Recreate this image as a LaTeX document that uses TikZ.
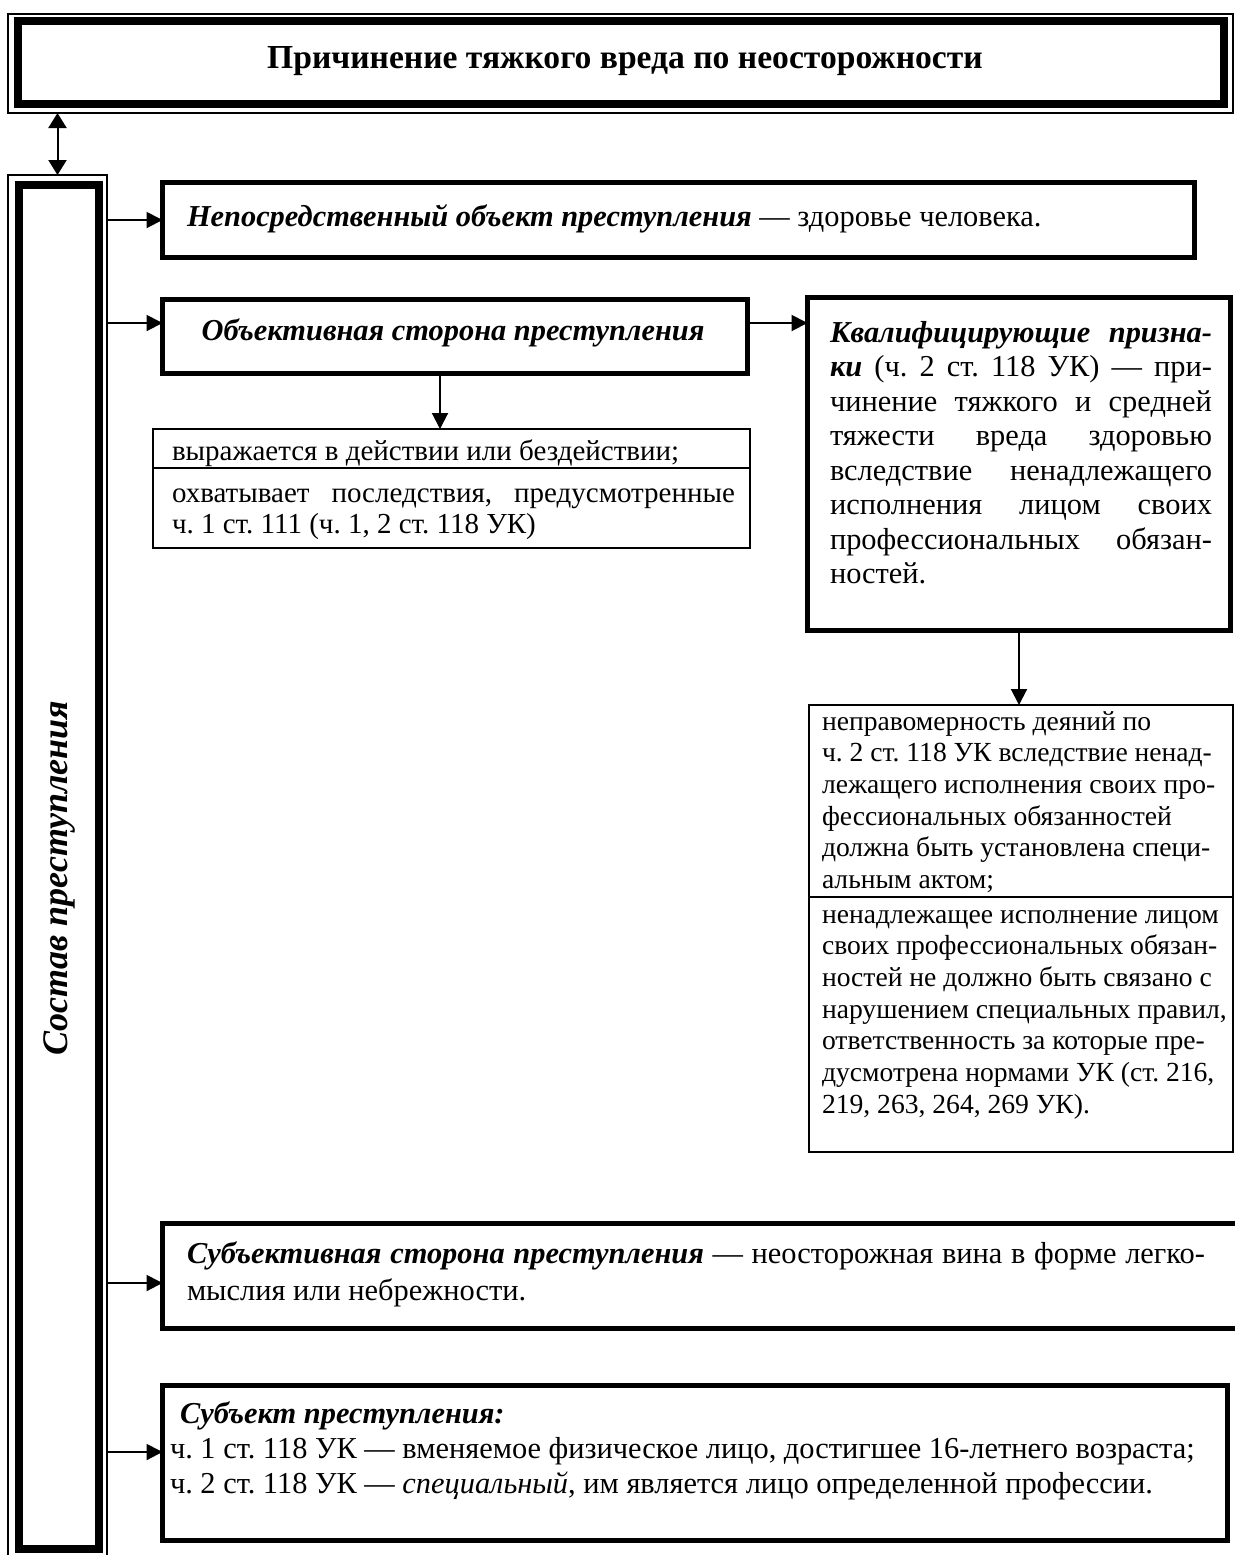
\documentclass[tikz,border=0pt]{standalone}
\usepackage{fontspec}
\setmainfont{Liberation Serif}
\usetikzlibrary{arrows.meta}
\frenchspacing
\begin{document}
\begin{tikzpicture}[x=0.5pt,y=-0.5pt,
  tbox/.style={draw,line width=2.5pt,outer sep=0pt,inner sep=0pt},
  nbox/.style={draw,line width=1pt,outer sep=0pt,inner sep=0pt},
  thickb/.style={draw,line width=4pt,outer sep=0pt,inner sep=0pt},
  thinb/.style={draw,line width=0.7pt,outer sep=0pt,inner sep=0pt},
  txt/.style={inner sep=0pt,outer sep=0pt,anchor=base west,font=\fontsize{15.2pt}{17.25pt}\selectfont},
  arr/.style={line width=1pt,-{Triangle[length=8pt,width=8pt]}},
  darr/.style={line width=1pt,{Triangle[length=7.5pt,width=9pt]}-{Triangle[length=7.5pt,width=9pt]}}]
\useasboundingbox (0,0) rectangle (1235,1555);
% title
\node[thinb,minimum width=612.5pt,minimum height=49.5pt] (tout) at (620.5,63.5) {};
\node[thickb,minimum width=603pt,minimum height=41.5pt] (tin) at (621,62.5) {};
\node[inner sep=0pt,anchor=base,font=\fontsize{16.8pt}{19pt}\selectfont\bfseries] (ttl) at (625,68) {Причинение тяжкого вреда по неосторожности};
% left vertical box
\node[thinb,minimum width=49.5pt,minimum height=690.5pt] (lout) at (57.5,865.5) {};
\node[thickb,minimum width=39.75pt,minimum height=682pt] (lin) at (58.75,867) {};
\node[inner sep=0pt,rotate=90,font=\fontsize{18pt}{21pt}\selectfont\bfseries\itshape] (lt) at (59,878) {Состав преступления};
\draw[darr] (lout.north |- tout.south) -- (lout.north);
% box 1
\node[tbox,minimum width=516pt,minimum height=37.5pt] (b1) at (678.5,220) {};
\node[txt] (t1) at (187,226) {\textbf{\textit{Непосредственный объект преступления}} — здоровье человека.};
\draw[arr] (lout.east |- b1.west) -- (b1.west);
% box 2
\node[tbox,minimum width=292.5pt,minimum height=37pt] (b2) at (455,336.5) {};
\node[txt,anchor=base] (t2) at (453,340) {\textbf{\textit{Объективная сторона преступления}}};
\coordinate (a2) at ([yshift=6.75pt]b2.west);
\draw[arr] (lout.east |- a2) -- (a2);
% box 3
\node[tbox,minimum width=211.5pt,minimum height=166.5pt] (b3) at (1019,464) {};
\draw[arr] (b2.east |- a2) -- (b3.west |- a2);
\node[txt] (t3) at (830,342) {\parbox[t]{191pt}{\fontsize{15.2pt}{17.25pt}\selectfont
\makebox[191pt][s]{\textbf{\textit{Квалифицирующие призна-}}}\\
\makebox[191pt][s]{\textbf{\textit{ки}} (ч. 2 ст. 118 УК) — при-}\\
\makebox[191pt][s]{чинение тяжкого и средней}\\
\makebox[191pt][s]{тяжести вреда здоровью}\\
\makebox[191pt][s]{вследствие ненадлежащего}\\
\makebox[191pt][s]{исполнения лицом своих}\\
\makebox[191pt][s]{профессиональных обязан-}\\
ностей.}};
% box A
\node[nbox,minimum width=298.5pt,minimum height=59.5pt] (bA) at (451.5,488.5) {};
\draw[line width=1pt] (bA.west |- 0,468) coordinate (dA1) -- (bA.east |- dA1) coordinate (dA2);
\coordinate (a3) at ([xshift=-7.5pt]b2.south);
\draw[arr] (a3) -- (a3 |- bA.north);
\node[txt,font=\fontsize{14.5pt}{15.5pt}\selectfont] (tA1) at (172,460) {выражается в действии или бездействии;};
\node[txt] (tA2) at (172,502) {\parbox[t]{281.5pt}{\fontsize{14.5pt}{15.5pt}\selectfont
\makebox[281.5pt][s]{охватывает последствия, предусмотренные}\\
ч. 1 ст. 111 (ч. 1, 2 ст. 118 УК)}};
% box B
\node[nbox,minimum width=212pt,minimum height=223.5pt] (bB) at (1021,928.5) {};
\draw[line width=1pt] (bB.west |- 0,897) coordinate (dB1) -- (bB.east |- dB1) coordinate (dB2);
\draw[arr] (b3.south) -- (b3.south |- bB.north);
\node[txt] (tB1) at (822,730) {\parbox[t]{240pt}{\raggedright\fontsize{13.8pt}{15.85pt}\selectfont
неправомерность деяний по\\
ч. 2 ст. 118 УК вследствие ненад-\\
лежащего исполнения своих про-\\
фессиональных обязанностей\\
должна быть установлена специ-\\
альным актом;}};
\node[txt] (tB2) at (822,923) {\parbox[t]{240pt}{\raggedright\fontsize{13.8pt}{15.85pt}\selectfont
ненадлежащее исполнение лицом\\
своих профессиональных обязан-\\
ностей не должно быть связано с\\
нарушением специальных правил,\\
ответственность за которые пре-\\
дусмотрена нормами УК (ст. 216,\\
219, 263, 264, 269 УК).}};
% box 4
\node[tbox,minimum width=541.25pt,minimum height=52.5pt] (b4) at (703.75,1275.5) {};
\coordinate (a4) at ([yshift=-3.75pt]b4.west);
\draw[arr] (lout.east |- a4) -- (a4);
\node[txt] (t4) at (187,1263) {\parbox[t]{509pt}{\fontsize{15.2pt}{18.5pt}\selectfont
\makebox[509pt][s]{\textbf{\textit{Субъективная сторона преступления}} — неосторожная вина в форме легко-}\\
мыслия или небрежности.}};
% box 5
\node[tbox,minimum width=532.5pt,minimum height=77.5pt] (b5) at (695,1463) {};
\coordinate (a5) at ([yshift=5.5pt]b5.west);
\draw[arr] (lout.east |- a5) -- (a5);
\node[txt] (t5) at (170,1423) {\parbox[t]{525pt}{\fontsize{15.2pt}{17.5pt}\selectfont
\hspace*{5pt}\textbf{\textit{Субъект преступления:}}\\
ч. 1 ст. 118 УК — вменяемое физическое лицо, достигшее 16-летнего возраста;\\
ч. 2 ст. 118 УК — \textit{специальный}, им является лицо определенной профессии.}};
\end{tikzpicture}
\end{document}
